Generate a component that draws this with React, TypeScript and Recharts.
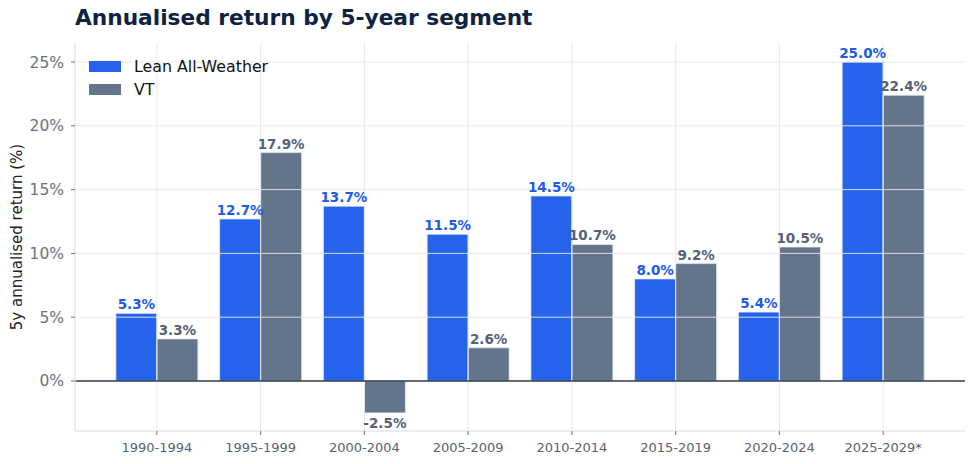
import React from "react";
import {
  BarChart,
  Bar,
  XAxis,
  YAxis,
  ReferenceLine,
  LabelList,
} from "recharts";

// Annualised return per 5-year block, Lean All-Weather vs VT.

const SEGMENTS = [
  "1990-1994",
  "1995-1999",
  "2000-2004",
  "2005-2009",
  "2010-2014",
  "2015-2019",
  "2020-2024",
  "2025-2029*",
];
const LEAN_AW = [5.3, 12.7, 13.7, 11.5, 14.5, 8.0, 5.4, 25.0];
const VT = [3.3, 17.9, -2.5, 2.6, 10.7, 9.2, 10.5, 22.4];
const Y_TICKS = [0, 5, 10, 15, 20, 25];

const BLUE = "#2563EB";
const SLATE = "#64748B";
const BLUE_TEXT = "#1D5BE6";
const SLATE_TEXT = "#566275";
const GRID = "#E5E7EB";
const FONT = "'DejaVu Sans', sans-serif";

const data = SEGMENTS.map((segment, i) => ({
  segment,
  lean: LEAN_AW[i],
  vt: VT[i],
}));

function valueLabel(color: string) {
  return (props: any) => {
    const { x, y, width, height, value } = props;
    const top = Math.min(y, y + height);
    const bottom = Math.max(y, y + height);
    const cx = x + width / 2;
    const neg = Number(value) < 0;
    return (
      <text
        x={cx}
        y={neg ? bottom + 15 : top - 4}
        textAnchor="middle"
        fontFamily={FONT}
        fontSize={13.5}
        fontWeight="bold"
        fill={color}
      >
        {`${Number(value).toFixed(1)}%`}
      </text>
    );
  };
}

function LegendBox() {
  const rows = [
    { label: "Lean All-Weather", color: BLUE },
    { label: "VT", color: SLATE },
  ];
  return (
    <div
      style={{
        position: "absolute",
        left: 89,
        top: 55,
        fontFamily: FONT,
        fontSize: 15.8,
        color: "#111",
      }}
    >
      {rows.map((r) => (
        <div
          key={r.label}
          style={{ display: "flex", alignItems: "center", height: 23 }}
        >
          <span
            style={{
              display: "inline-block",
              width: 32,
              height: 11,
              background: r.color,
              marginRight: 13,
            }}
          />
          {r.label}
        </div>
      ))}
    </div>
  );
}

export default function App() {
  return (
    <div
      style={{
        position: "absolute",
        left: 0,
        top: 0,
        width: 975,
        height: 464,
        background: "white",
      }}
    >
      <div
        style={{
          position: "absolute",
          left: 75,
          top: 5,
          fontFamily: FONT,
          fontWeight: "bold",
          fontSize: 21.7,
          color: "#0E2241",
          whiteSpace: "nowrap",
        }}
      >
        Annualised return by 5-year segment
      </div>
      <BarChart
        width={975}
        height={464}
        data={data}
        margin={{ top: 43, right: 10, left: 15, bottom: 3 }}
        barCategoryGap="10.5%"
        barGap={0}
      >
        <XAxis
          dataKey="segment"
          padding={{ left: 30, right: 30 }}
          height={30}
          tick={{ fontSize: 13, fill: "#5B6270", fontFamily: FONT }}
          tickLine={{ stroke: "#6B7280" }}
          tickSize={4}
          tickMargin={8}
          axisLine={{ stroke: GRID, strokeWidth: 1.5 }}
        />
        <YAxis
          width={60}
          domain={[-3.92, 26.49]}
          allowDataOverflow
          ticks={Y_TICKS}
          tickFormatter={(v: number) => `${v}%`}
          tick={{ fontSize: 15.5, fill: "#6B7280", fontFamily: FONT }}
          tickLine={{ stroke: "#6B7280" }}
          tickSize={4}
          tickMargin={7}
          axisLine={{ stroke: GRID, strokeWidth: 1.5 }}
          label={{
            value: "5y annualised return (%)",
            angle: -90,
            position: "insideLeft",
            offset: 2,
            style: {
              fontSize: 15,
              fill: "#222",
              fontFamily: FONT,
              textAnchor: "middle",
            },
          }}
        />
        <Bar
          dataKey="lean"
          fill={BLUE}
          stroke="#E2E8F0"
          strokeWidth={0.8}
          isAnimationActive={false}
        >
          <LabelList dataKey="lean" content={valueLabel(BLUE_TEXT)} />
        </Bar>
        <Bar
          dataKey="vt"
          fill={SLATE}
          stroke="#E2E8F0"
          strokeWidth={0.8}
          isAnimationActive={false}
        >
          <LabelList dataKey="vt" content={valueLabel(SLATE_TEXT)} />
        </Bar>
        {/* grid drawn over the bars, as in the source figure */}
        {Y_TICKS.filter((t) => t !== 0).map((t) => (
          <ReferenceLine key={`h${t}`} y={t} stroke={GRID} strokeOpacity={0.9} />
        ))}
        {SEGMENTS.map((s) => (
          <ReferenceLine key={`v${s}`} x={s} stroke={GRID} strokeOpacity={0.9} />
        ))}
        <ReferenceLine y={0} stroke="#2F3A4A" strokeWidth={1.3} />
      </BarChart>
      <LegendBox />
    </div>
  );
}
